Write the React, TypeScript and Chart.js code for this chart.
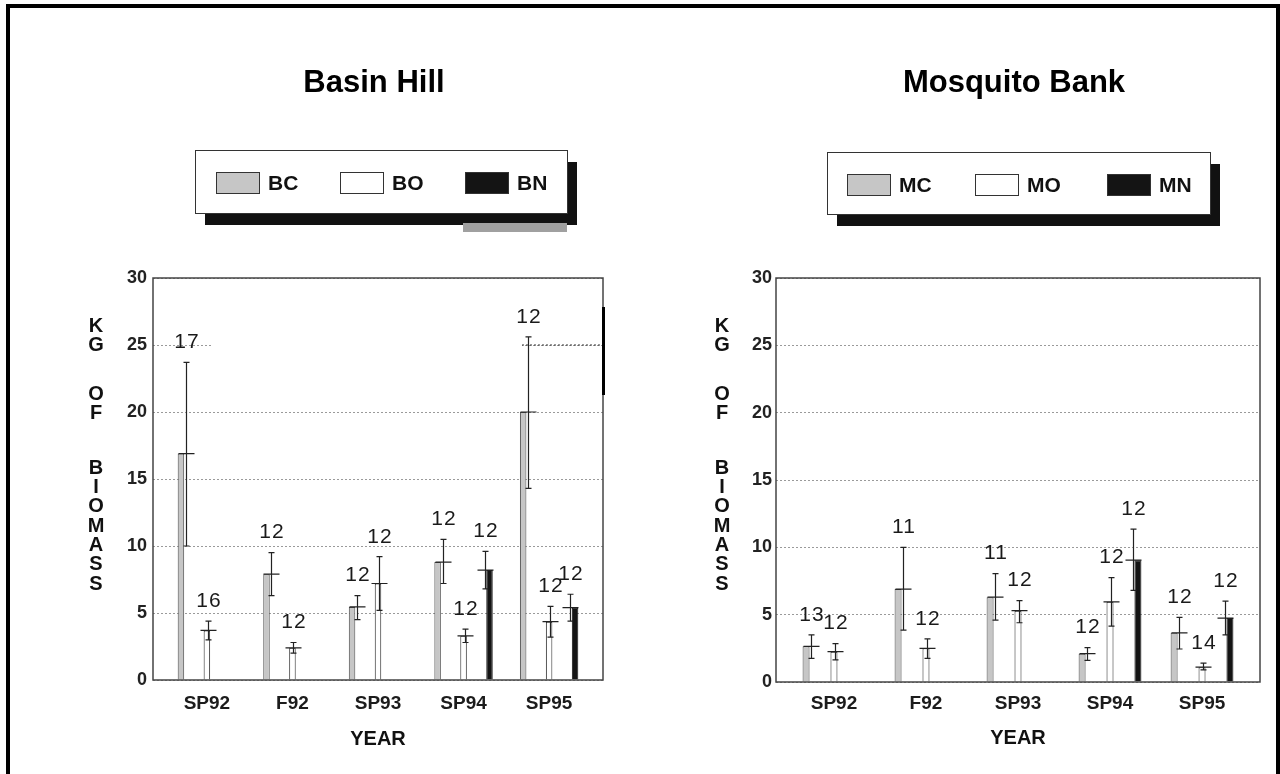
import React, { useEffect, useRef } from 'react';
import { Chart, registerables } from 'chart.js';

Chart.register(...registerables);

// ---------- data ----------
const categories = ['SP92', 'F92', 'SP93', 'SP94', 'SP95'];
const yTicks = [0, 5, 10, 15, 20, 25, 30];

// Basin Hill
const bcMean = [16.9, 7.9, 5.45, 8.8, 20.0];
const bcUpper = [23.7, 9.5, 6.3, 10.5, 25.6];
const bcLower = [10.0, 6.3, 4.5, 7.2, 14.3];
const bcN = [17, 12, 12, 12, 12];

const boMean = [3.7, 2.4, 7.2, 3.3, 4.35];
const boUpper = [4.4, 2.8, 9.2, 3.8, 5.5];
const boLower = [3.0, 2.0, 5.2, 2.8, 3.2];
const boN = [16, 12, 12, 12, 12];

const bnMean = [null, null, null, 8.2, 5.4];
const bnUpper = [null, null, null, 9.6, 6.4];
const bnLower = [null, null, null, 6.8, 4.4];
const bnN = [null, null, null, 12, 12];

// Mosquito Bank
const mcMean = [2.65, 6.9, 6.3, 2.1, 3.65];
const mcUpper = [3.5, 10.0, 8.05, 2.55, 4.8];
const mcLower = [1.75, 3.85, 4.6, 1.6, 2.45];
const mcN = [13, 11, 11, 12, 12];

const moMean = [2.25, 2.5, 5.3, 5.95, 1.1];
const moUpper = [2.85, 3.2, 6.05, 7.75, 1.4];
const moLower = [1.65, 1.75, 4.4, 4.15, 0.9];
const moN = [12, 12, 12, 12, 14];

const mnMean = [null, null, null, 9.05, 4.75];
const mnUpper = [null, null, null, 11.35, 6.0];
const mnLower = [null, null, null, 6.8, 3.5];
const mnN = [null, null, null, 12, 12];

const yTitleWords = ['KG', 'OF', 'BIOMASS'];

// ---------- styles ----------
const FONT = '"Liberation Sans", Arial, Helvetica, sans-serif';
const GRAY_FILL = '#c6c6c6';
const INK = '#1c1c1c';

type Series = {
  label: string;
  mean: (number | null)[];
  upper: (number | null)[];
  lower: (number | null)[];
  n: (number | null)[];
  fill: string;
  border: string;
};

type Panel = {
  title: string;
  series: Series[];
  canvasLeft: number;
  padLeft: number;
  padRight: number;
  xAxisHeight: number;
  xTickPad: number;
  yTickPad: number;
  yearPad: number;
  yTitleX: number;
  legend: { x: number; y: number; w: number; h: number; items: number[]; grayStrip: boolean };
  patch: boolean;
};

const basin: Panel = {
  title: 'Basin Hill',
  series: [
    { label: 'BC', mean: bcMean, upper: bcUpper, lower: bcLower, n: bcN, fill: GRAY_FILL, border: '#4a4a4a' },
    { label: 'BO', mean: boMean, upper: boUpper, lower: boLower, n: boN, fill: '#ffffff', border: '#222222' },
    { label: 'BN', mean: bnMean, upper: bnUpper, lower: bnLower, n: bnN, fill: '#141414', border: '#141414' },
  ],
  canvasLeft: 0,
  padLeft: 103,
  padRight: 37,
  xAxisHeight: 94,
  xTickPad: 12,
  yTickPad: 6,
  yearPad: 23,
  yTitleX: 96,
  legend: { x: 195, y: 150, w: 372, h: 63, items: [21, 145, 270], grayStrip: true },
  patch: true,
};

const mosquito: Panel = {
  title: 'Mosquito Bank',
  series: [
    { label: 'MC', mean: mcMean, upper: mcUpper, lower: mcLower, n: mcN, fill: GRAY_FILL, border: '#4a4a4a' },
    { label: 'MO', mean: moMean, upper: moUpper, lower: moLower, n: moN, fill: '#ffffff', border: '#222222' },
    { label: 'MN', mean: mnMean, upper: mnUpper, lower: mnLower, n: mnN, fill: '#141414', border: '#141414' },
  ],
  canvasLeft: 640,
  padLeft: 86,
  padRight: 20,
  xAxisHeight: 92,
  xTickPad: 10,
  yTickPad: 4,
  yearPad: 24,
  yTitleX: 722 - 640,
  legend: { x: 827 - 640, y: 152, w: 383, h: 62, items: [20, 148, 280], grayStrip: false },
  patch: false,
};

const ERR_OFFSET = [5, 1, -5];

function makeChart(canvas: HTMLCanvasElement, panel: Panel) {
  const decor = {
    id: 'decor',
    beforeDatasetsDraw(chart: any) {
      const { ctx, chartArea } = chart;
      if (panel.patch) {
        const y25 = chart.scales.y.getPixelForValue(25);
        ctx.save();
        ctx.fillStyle = '#ffffff';
        ctx.fillRect(213, y25 - 3, 309, 6);
        ctx.strokeStyle = '#333';
        ctx.lineWidth = 1;
        ctx.setLineDash([2, 2]);
        ctx.beginPath();
        ctx.moveTo(522, y25);
        ctx.lineTo(chartArea.right, y25);
        ctx.stroke();
        ctx.restore();
      }
    },
    afterDraw(chart: any) {
      const { ctx, chartArea } = chart;
      ctx.save();
      // plot frame
      ctx.strokeStyle = '#444';
      ctx.lineWidth = 1.5;
      ctx.strokeRect(chartArea.left, chartArea.top, chartArea.right - chartArea.left, chartArea.bottom - chartArea.top);
      if (panel.patch) {
        ctx.fillStyle = '#000';
        ctx.fillRect(chartArea.right - 1, 307, 3, 88);
      }
      // title
      ctx.fillStyle = '#000';
      ctx.font = `bold 31px ${FONT}`;
      ctx.textAlign = 'center';
      ctx.textBaseline = 'middle';
      ctx.fillText(panel.title, (chartArea.left + chartArea.right) / 2 - 4, 83);

      // legend box
      const L = panel.legend;
      ctx.fillStyle = '#111';
      ctx.fillRect(L.x + 10, L.y + 12, L.w, L.h);
      if (L.grayStrip) {
        ctx.fillStyle = '#a0a0a0';
        ctx.fillRect(L.x + 268, L.y + L.h + 10, L.w - 268, 9);
      }
      ctx.fillStyle = '#fff';
      ctx.fillRect(L.x, L.y, L.w, L.h);
      ctx.strokeStyle = '#333';
      ctx.lineWidth = 1;
      ctx.strokeRect(L.x + 0.5, L.y + 0.5, L.w, L.h);
      chart.data.datasets.forEach((ds: any, i: number) => {
        const sx = L.x + L.items[i];
        const sy = L.y + 22;
        ctx.fillStyle = ds.backgroundColor;
        ctx.fillRect(sx, sy, 43, 21);
        ctx.strokeStyle = '#333';
        ctx.strokeRect(sx + 0.5, sy + 0.5, 43, 21);
        ctx.fillStyle = '#111';
        ctx.font = `bold 21px ${FONT}`;
        ctx.textAlign = 'left';
        ctx.textBaseline = 'middle';
        ctx.fillText(ds.label, sx + 52, sy + 12);
      });

      // stacked y title
      ctx.fillStyle = '#111';
      ctx.font = `bold 20px ${FONT}`;
      ctx.textAlign = 'center';
      ctx.textBaseline = 'middle';
      let yy = 326;
      yTitleWords.forEach((w, wi) => {
        for (const ch of w) {
          ctx.fillText(ch, panel.yTitleX, yy);
          yy += 19.3;
        }
        yy += wi === 0 ? 30 : 35;
      });
      ctx.restore();
    },
  };

  const errbars = {
    id: 'errbars',
    afterDatasetsDraw(chart: any) {
      const { ctx } = chart;
      const ys = chart.scales.y;
      panel.series.forEach((s, di) => {
        const meta = chart.getDatasetMeta(di);
        s.mean.forEach((m, i) => {
          if (m == null) return;
          const el = meta.data[i];
          const x = Math.round(el.x + ERR_OFFSET[di]) + 0.5;
          const yu = ys.getPixelForValue(s.upper[i]);
          const yl = ys.getPixelForValue(s.lower[i]);
          const ym = ys.getPixelForValue(m);
          ctx.save();
          ctx.strokeStyle = '#222';
          ctx.lineWidth = 1.2;
          ctx.beginPath();
          ctx.moveTo(x, yu); ctx.lineTo(x, yl);
          ctx.moveTo(x - 3, yu); ctx.lineTo(x + 3, yu);
          ctx.moveTo(x - 3, yl); ctx.lineTo(x + 3, yl);
          ctx.moveTo(x - 8, ym); ctx.lineTo(x + 8, ym);
          ctx.stroke();
          ctx.fillStyle = '#1a1a1a';
          ctx.font = `21px ${FONT}`;
          (ctx as any).letterSpacing = '1px';
          ctx.textAlign = 'center';
          ctx.textBaseline = 'middle';
          ctx.fillText(String(s.n[i]), x + 0.5, yu - 20);
          ctx.restore();
        });
      });
    },
  };

  return new Chart(canvas, {
    type: 'bar',
    data: {
      datasets: panel.series.map((s) => ({
        label: s.label,
        data: s.mean.map((v, i) => ({ x: i, y: v })),
        backgroundColor: s.fill,
        borderColor: s.border,
        borderWidth: 1,
        barPercentage: 0.25,
        categoryPercentage: 0.91,
      })),
    },
    options: {
      responsive: false,
      animation: false,
      devicePixelRatio: 1,
      layout: { padding: { left: panel.padLeft, right: panel.padRight, top: 278, bottom: 0 } },
      plugins: { legend: { display: false }, title: { display: false }, tooltip: { enabled: false } },
      scales: {
        x: {
          type: 'linear',
          min: -0.63,
          max: 4.63,
          offset: false,
          grid: { display: false, drawTicks: false },
          border: { display: false },
          afterBuildTicks: (scale: any) => {
            scale.ticks = categories.map((_, i) => ({ value: i }));
          },
          afterFit: (scale: any) => {
            scale.height = panel.xAxisHeight;
          },
          ticks: {
            autoSkip: false,
            maxRotation: 0,
            padding: panel.xTickPad,
            color: INK,
            font: { family: FONT, size: 19, weight: 'bold' },
            callback: (v: any) => categories[Math.round(v)] ?? '',
          },
          title: {
            display: true,
            text: 'YEAR',
            color: '#111',
            font: { family: FONT, size: 20, weight: 'bold' },
            padding: { top: 0, bottom: panel.yearPad },
          },
        },
        y: {
          min: 0,
          max: 30,
          afterBuildTicks: (scale: any) => {
            scale.ticks = yTicks.map((v) => ({ value: v }));
          },
          afterFit: (scale: any) => {
            scale.width = 50;
          },
          grid: { color: '#9a9a9a', lineWidth: 1, drawTicks: false },
          border: { display: false, dash: [2, 2] },
          ticks: {
            padding: panel.yTickPad,
            color: '#222',
            font: { family: FONT, size: 18, weight: 'bold' },
          },
        },
      },
    },
    plugins: [decor, errbars],
  } as any);
}

function PanelChart({ panel }: { panel: Panel }) {
  const ref = useRef<HTMLCanvasElement | null>(null);
  useEffect(() => {
    if (!ref.current) return;
    const chart = makeChart(ref.current, panel);
    return () => chart.destroy();
  }, [panel]);
  return (
    <div style={{ position: 'absolute', left: panel.canvasLeft, top: 0, width: 640, height: 774 }}>
      <canvas ref={ref} width={640} height={774} style={{ width: 640, height: 774, display: 'block' }} />
    </div>
  );
}

export default function App() {
  return (
    <div
      style={{
        position: 'absolute',
        left: 0,
        top: 0,
        width: 1280,
        height: 774,
        overflow: 'hidden',
        background: '#fff',
      }}
    >
      <PanelChart panel={basin} />
      <PanelChart panel={mosquito} />
      <div
        style={{
          position: 'absolute',
          left: 6,
          top: 4,
          width: 1274,
          height: 820,
          boxSizing: 'border-box',
          border: '4px solid #000',
          pointerEvents: 'none',
        }}
      />
    </div>
  );
}
